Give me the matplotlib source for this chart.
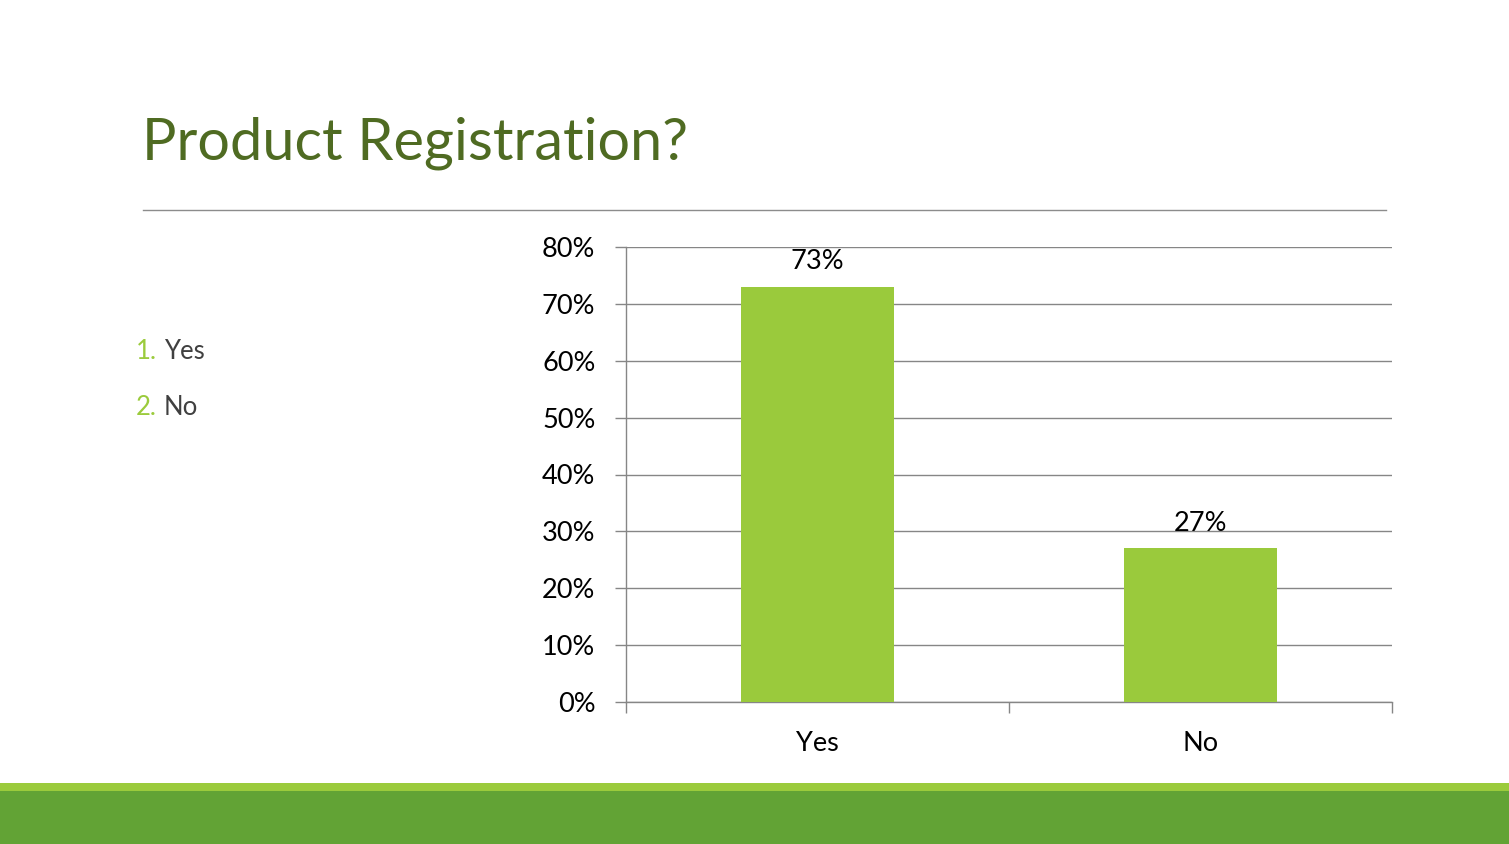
import matplotlib.pyplot as plt
from matplotlib.patches import Rectangle
from matplotlib.lines import Line2D
from matplotlib.ticker import PercentFormatter

# data
categories = ["Yes", "No"]
shares = [0.73, 0.27]
y_ticks = [0.0, 0.1, 0.2, 0.3, 0.4, 0.5, 0.6, 0.7, 0.8]
list_items = ["Yes", "No"]

W, H = 1509, 844
plt.rcParams["font.family"] = ["Lato", "DejaVu Sans"]

fig = plt.figure(figsize=(W / 100, H / 100), dpi=100)

# title and separator line
fig.text(142 / W, 1 - 160 / H, "Product Registration?", fontsize=41.5,
         color="#4F6B22", va="baseline", ha="left")
fig.add_artist(Line2D([143 / W, 1386 / W], [1 - 210 / H, 1 - 210 / H],
                      color="#8C8C8C", lw=1, transform=fig.transFigure))

# numbered list on the left
for i, item in enumerate(list_items):
    yb = 1 - (359 + 56 * i) / H
    fig.text(136 / W, yb, f"{i + 1}.", fontsize=18.5, color="#9BCB3C",
             va="baseline", ha="left")
    fig.text(164 / W, yb, item, fontsize=18.5, color="#404040",
             va="baseline", ha="left")

# bottom bands
fig.add_artist(Rectangle((0, 0), 1, 53 / H, transform=fig.transFigure,
                         color="#62A335", lw=0))
fig.add_artist(Rectangle((0, 53 / H), 1, 8 / H, transform=fig.transFigure,
                         color="#9BCB3C", lw=0))

# chart
ax = fig.add_axes([626 / W, 1 - 702 / H, 766 / W, (702 - 247) / H])
x = list(range(len(categories)))
ax.bar(x, shares, width=0.4, color="#9ACA3C", zorder=3)
for xi, v in zip(x, shares):
    ax.annotate(f"{v:.0%}", (xi, v), xytext=(0, 9), textcoords="offset points",
                ha="center", va="bottom", fontsize=19.5, color="#000000")

ax.set_xlim(-0.5, len(categories) - 0.5)
ax.set_ylim(0, 0.8)
ax.set_yticks(y_ticks)
ax.yaxis.set_major_formatter(PercentFormatter(1.0, decimals=0))
ax.grid(axis="y", color="#868686", lw=1, zorder=0)

ax.set_xticks([i - 0.5 for i in range(len(categories) + 1)])
ax.set_xticklabels([])
ax.set_xticks(x, minor=True)
ax.set_xticklabels(categories, minor=True)
ax.tick_params(axis="x", which="major", length=8, color="#868686", width=1)
ax.tick_params(axis="x", which="minor", length=0, pad=21, labelsize=19.5)
ax.tick_params(axis="y", length=8, color="#868686", width=1, pad=14,
               labelsize=19.5)

for side in ["top", "right"]:
    ax.spines[side].set_visible(False)
for side in ["left", "bottom"]:
    ax.spines[side].set_color("#868686")
    ax.spines[side].set_linewidth(1)

fig.savefig("out.png", dpi=100)
